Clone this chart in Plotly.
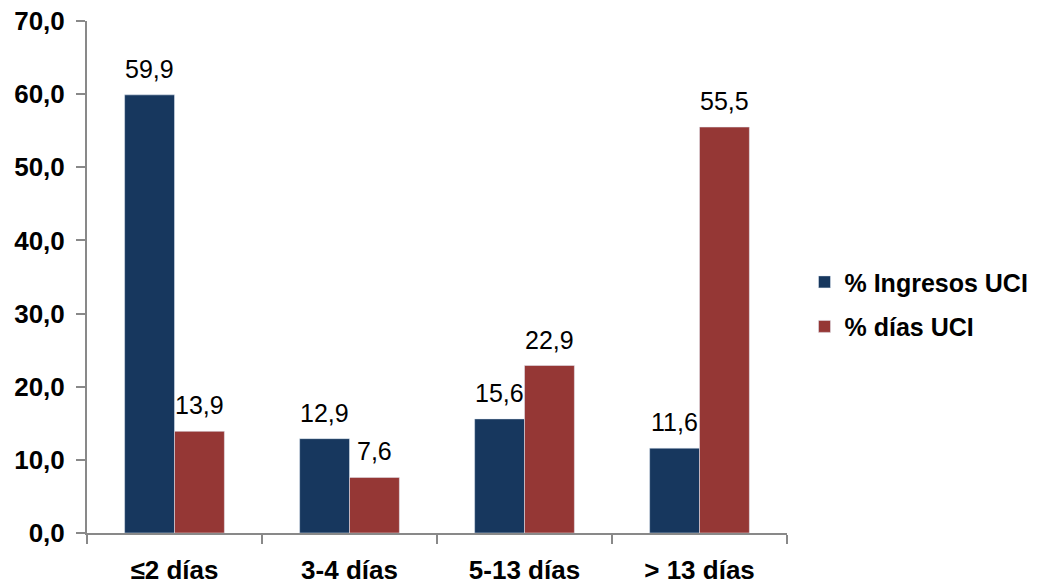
import plotly.graph_objects as go

categories = ["≤2 días", "3-4 días", "5-13 días", "> 13 días"]
ingresos = [59.9, 12.9, 15.6, 11.6]
dias = [13.9, 7.6, 22.9, 55.5]
series_names = ["% Ingresos UCI", "% días UCI"]
colors = ["#17375E", "#953735"]

FONT = "Liberation Sans, Arial, sans-serif"
BARGAP = 0.43
bar_w = (1 - BARGAP) / 2

fig = go.Figure()
annotations = []
for k, (name, vals, col) in enumerate(zip(series_names, [ingresos, dias], colors)):
    fig.add_trace(go.Bar(
        x=categories, y=vals, name=name, marker_color=col,
        legendgroup=name,
    ))
    offset = (k - 0.5) * bar_w
    for i, v in enumerate(vals):
        annotations.append(dict(
            x=i + offset, y=v, xref="x", yref="y",
            text=f"{v:.1f}".replace(".", ","), showarrow=False,
            yanchor="bottom", yshift=10,
            font=dict(family=FONT, size=25, color="#000000"),
        ))

fig.update_layout(
    width=1038, height=587,
    margin=dict(l=87, r=251, t=21, b=54, autoexpand=False),
    paper_bgcolor="white", plot_bgcolor="white",
    barmode="group", bargap=BARGAP, bargroupgap=0,
    separators=",.",
    font=dict(family=FONT, size=25, color="#000000"),
    legend=dict(x=1.025, y=0.447, yanchor="middle", xanchor="left",
                font=dict(size=25, family=FONT, weight="bold"),
                itemwidth=30, tracegroupgap=9),
    showlegend=True,
    annotations=annotations,
)
fig.update_yaxes(range=[0, 70], dtick=10, tickformat=".1f", showgrid=False,
                 showline=True, linecolor="#898989", linewidth=2,
                 ticks="outside", ticklen=9, tickcolor="#898989", tickwidth=2,
                 ticklabelstandoff=6, zeroline=False, automargin=False,
                 tickfont=dict(size=26, family=FONT, weight="bold"))
fig.update_xaxes(showline=True, linecolor="#898989", linewidth=2,
                 ticks="outside", ticklen=9, tickcolor="#898989", tickwidth=2,
                 tickson="boundaries", ticklabelstandoff=13, automargin=False,
                 tickfont=dict(size=26, family=FONT, weight="bold"))

fig.write_html("out.html")
